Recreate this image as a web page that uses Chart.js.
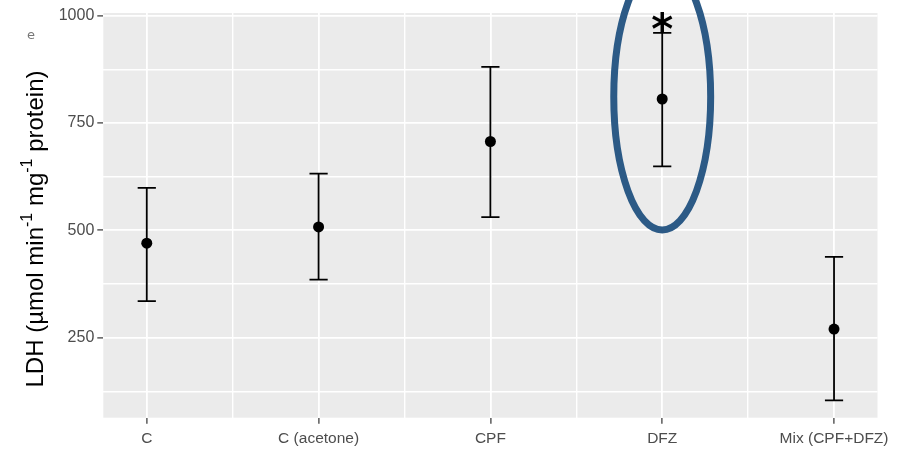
<!DOCTYPE html>
<html>
<head>
<meta charset="utf-8">
<script src="https://cdn.jsdelivr.net/npm/chart.js@4.4.1/dist/chart.umd.min.js"></script>
<style>
  html, body { margin: 0; padding: 0; background: #fff; }
  canvas { display: block; }
</style>
</head>
<body>
<canvas id="myChart" width="897" height="455"></canvas>
<script>
// values
const categories = ['C', 'C (acetone)', 'CPF', 'DFZ', 'Mix (CPF+DFZ)'];
const means = [470, 508, 707, 806, 270];
const lowerBars = [335, 385, 531, 649, 104];
const upperBars = [599, 632, 881, 960, 438];
const yMajorTicks = [250, 500, 750, 1000];
const yMinorTicks = [125, 375, 625, 875];
const starredCategory = 'DFZ';

const panelGrey = '#EBEBEB';
const tickGrey = '#4D4D4D';

// grey panel behind the grid
const panelBackground = {
    id: 'panelBackground',
    beforeDraw(chart) {
        const { ctx, chartArea: a } = chart;
        ctx.save();
        ctx.fillStyle = panelGrey;
        ctx.fillRect(a.left, a.top, a.right - a.left, a.bottom - a.top);
        ctx.restore();
    }
};

// error bars under the points
const errorBars = {
    id: 'errorBars',
    beforeDatasetsDraw(chart) {
        const { ctx, scales: { x, y } } = chart;
        ctx.save();
        ctx.strokeStyle = '#000';
        ctx.lineWidth = 1.8;
        means.forEach((m, i) => {
            const px = x.getPixelForValue(i);
            const half = x.getPixelForValue(i + 0.053) - px;
            const lo = y.getPixelForValue(lowerBars[i]);
            const hi = y.getPixelForValue(upperBars[i]);
            ctx.beginPath();
            ctx.moveTo(px, lo); ctx.lineTo(px, hi);
            ctx.moveTo(px - half, lo); ctx.lineTo(px + half, lo);
            ctx.moveTo(px - half, hi); ctx.lineTo(px + half, hi);
            ctx.stroke();
        });
        ctx.restore();
    }
};

// ellipse, asterisk, y title with superscripts, stray "e"
const annotations = {
    id: 'annotations',
    afterDraw(chart) {
        const { ctx, scales: { x, y } } = chart;
        const idx = categories.indexOf(starredCategory);
        const cx = x.getPixelForValue(idx);
        const cy = y.getPixelForValue(811);
        const rx = x.getPixelForValue(idx + 0.282) - cx;
        const ry = y.getPixelForValue(811 - 310) - cy;

        ctx.save();
        ctx.strokeStyle = '#2C5A86';
        ctx.lineWidth = 7;
        ctx.beginPath();
        ctx.ellipse(cx, cy, rx, ry, 0, 0, Math.PI * 2);
        ctx.stroke();

        // asterisk just above the upper cap
        ctx.fillStyle = '#000';
        ctx.font = 'bold 42px "DejaVu Sans"';
        ctx.textAlign = 'center';
        ctx.textBaseline = 'alphabetic';
        const m = ctx.measureText('*');
        const starMid = y.getPixelForValue(upperBars[idx]) - 11;
        ctx.fillText('*', cx, starMid + (m.actualBoundingBoxAscent - m.actualBoundingBoxDescent) / 2);

        // y axis title
        const parts = [
            ['LDH (\u00B5mol min', false],
            ['-1', true],
            [' mg', false],
            ['-1', true],
            [' protein)', false]
        ];
        const mainFont = '24px "Liberation Sans", Arial, sans-serif';
        const supFont = '16px "Liberation Sans", Arial, sans-serif';
        let total = 0;
        parts.forEach(([t, sup]) => {
            ctx.font = sup ? supFont : mainFont;
            total += ctx.measureText(t).width;
        });
        ctx.translate(36, 229);
        ctx.rotate(-Math.PI / 2);
        ctx.textAlign = 'left';
        ctx.textBaseline = 'middle';
        let pos = -total / 2;
        parts.forEach(([t, sup]) => {
            ctx.font = sup ? supFont : mainFont;
            ctx.fillText(t, pos, sup ? -8 : 0);
            pos += ctx.measureText(t).width;
        });
        ctx.restore();

        ctx.save();
        ctx.fillStyle = '#777';
        ctx.font = '13px "DejaVu Sans"';
        ctx.textAlign = 'center';
        ctx.textBaseline = 'middle';
        ctx.fillText('e', 31, 36);
        ctx.restore();
    }
};

const isWhole = v => Math.abs(v - Math.round(v)) < 1e-6;

document.addEventListener('DOMContentLoaded', () => {
    const ctx = document.getElementById('myChart').getContext('2d');
    new Chart(ctx, {
        type: 'scatter',
        data: {
            datasets: [{
                data: means.map((m, i) => ({ x: i, y: m })),
                backgroundColor: '#000',
                borderColor: '#000',
                borderWidth: 0,
                pointRadius: 5.5,
                pointHoverRadius: 5.5
            }]
        },
        options: {
            responsive: false,
            animation: false,
            layout: { padding: { top: 13, right: 19.5, left: 0, bottom: 0 } },
            plugins: {
                legend: { display: false },
                tooltip: { enabled: false }
            },
            scales: {
                x: {
                    type: 'linear',
                    min: -0.253,
                    max: 4.253,
                    afterBuildTicks: scale => {
                        const t = [];
                        for (let v = 0; v <= categories.length - 1; v += 0.5) t.push({ value: v });
                        scale.ticks = t;
                    },
                    afterFit: scale => { scale.height = 37.3; },
                    border: { display: false },
                    grid: {
                        color: '#FFFFFF',
                        lineWidth: c => (isWhole(c.tick.value) ? 1.8 : 1.4),
                        tickColor: c => (isWhole(c.tick.value) ? '#333333' : 'rgba(0,0,0,0)'),
                        tickLength: 6,
                        tickWidth: 1.2
                    },
                    ticks: {
                        autoSkip: false,
                        maxRotation: 0,
                        padding: 6,
                        color: tickGrey,
                        font: { family: '"Liberation Sans", Arial, sans-serif', size: 15.5 },
                        callback: v => (isWhole(v) ? categories[Math.round(v)] : '')
                    }
                },
                y: {
                    min: 63.6,
                    max: 1006.3,
                    afterBuildTicks: scale => {
                        scale.ticks = [...yMinorTicks, ...yMajorTicks]
                            .sort((a, b) => a - b)
                            .map(v => ({ value: v }));
                    },
                    afterFit: scale => { scale.width = 103.3; },
                    border: { display: false },
                    grid: {
                        color: '#FFFFFF',
                        lineWidth: c => (yMajorTicks.includes(c.tick.value) ? 1.8 : 1.4),
                        tickColor: c => (yMajorTicks.includes(c.tick.value) ? '#333333' : 'rgba(0,0,0,0)'),
                        tickLength: 6,
                        tickWidth: 1.2
                    },
                    ticks: {
                        padding: 3,
                        color: tickGrey,
                        font: { family: '"Liberation Sans", Arial, sans-serif', size: 16 },
                        callback: v => (yMajorTicks.includes(v) ? String(v) : '')
                    }
                }
            }
        },
        plugins: [panelBackground, errorBars, annotations]
    });
});
</script>
</body>
</html>
